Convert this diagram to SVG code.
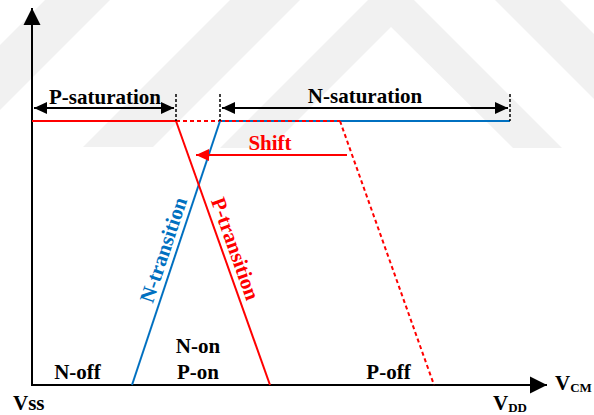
<svg xmlns="http://www.w3.org/2000/svg" width="594" height="415" viewBox="0 0 594 415">
  <style>
    .t { font-family: "Liberation Serif", "Times New Roman", serif; font-weight: bold; font-size: 21px; fill: #000; }
    .sub { font-size: 13px; }
    .red { fill: #FF0000; }
    .blue { fill: #0070C0; }
    .ax { stroke: #000; stroke-width: 2; fill: none; }
    .dim { stroke: #000; stroke-width: 2; fill: none; }
    .vd { stroke: #000; stroke-width: 1.5; stroke-dasharray: 3 2; fill: none; }
    .rl { stroke: #FF0000; stroke-width: 2; fill: none; }
    .rd { stroke: #FF0000; stroke-width: 2; stroke-dasharray: 4 3; fill: none; }
    .bl { stroke: #0070C0; stroke-width: 2; fill: none; }
    .wm { fill: #000; fill-opacity: 0.055; }
  </style>
  <defs>
    <marker id="axh" markerUnits="userSpaceOnUse" markerWidth="18" markerHeight="18" viewBox="0 0 18 18" refX="17" refY="9" orient="auto">
      <path d="M0,0.5 L17,9 L0,17.5 Z" fill="#000"/>
    </marker>
    <marker id="ah" markerUnits="userSpaceOnUse" markerWidth="14" markerHeight="14" viewBox="0 0 14 14" refX="13" refY="7" orient="auto-start-reverse">
      <path d="M0,1 L13,7 L0,13 Z" fill="#000"/>
    </marker>
    <marker id="rh" markerUnits="userSpaceOnUse" markerWidth="14" markerHeight="14" viewBox="0 0 14 14" refX="13" refY="7" orient="auto">
      <path d="M0,1 L13,7 L0,13 Z" fill="#FF0000"/>
    </marker>
  </defs>

  <g id="watermark">
    <polygon class="wm" points="0,45 45,0 110,0 0,110"/>
    <polygon class="wm" points="83,147 230,0 300,0 153,147"/>
    <polygon class="wm" points="220,148 391,-23 562,148 513,148 391,27 270,148"/>
    <polygon class="wm" points="495,0 560,0 594,34 594,99"/>
  </g>

  <g id="axes">
    <line class="ax" x1="32" y1="386" x2="32" y2="8" marker-end="url(#axh)"/>
    <line class="ax" x1="31" y1="385" x2="547" y2="385" marker-end="url(#axh)"/>
  </g>

  <g id="connectors">
    <line class="bl" x1="220" y1="121" x2="510" y2="121"/>
    <line class="rl" x1="32" y1="121" x2="176" y2="121"/>
    <line class="rd" x1="176" y1="121" x2="340" y2="121"/>
    <line class="bl" x1="132" y1="385" x2="220" y2="121"/>
    <line class="rl" x1="176" y1="121" x2="270" y2="385"/>
    <line class="rd" x1="340" y1="121" x2="434" y2="385"/>
    <line class="vd" x1="176" y1="94" x2="176" y2="121"/>
    <line class="vd" x1="220" y1="94" x2="220" y2="121"/>
    <line class="vd" x1="510" y1="94" x2="510" y2="121"/>
    <line class="dim" x1="34" y1="108" x2="174" y2="108" marker-start="url(#ah)" marker-end="url(#ah)"/>
    <line class="dim" x1="222" y1="108" x2="508" y2="108" marker-start="url(#ah)" marker-end="url(#ah)"/>
    <line class="rl" x1="347" y1="155" x2="196" y2="155" marker-end="url(#rh)"/>
  </g>

  <g id="p-saturation"><text class="t" x="105" y="104" text-anchor="middle">P-saturation</text></g>
  <g id="n-saturation"><text class="t" x="365" y="103" text-anchor="middle">N-saturation</text></g>
  <g id="shift"><text class="t red" x="270" y="150" text-anchor="middle">Shift</text></g>
  <g id="n-transition"><text class="t blue" transform="translate(175.7,254) rotate(-71.57)" x="0" y="-6" text-anchor="middle">N-transition</text></g>
  <g id="p-transition"><text class="t red" transform="translate(223,253) rotate(70.4)" x="0" y="-6" text-anchor="middle">P-transition</text></g>
  <g id="n-off"><text class="t" x="77.5" y="379" text-anchor="middle">N-off</text></g>
  <g id="n-on-p-on">
    <text class="t" x="198" y="353" text-anchor="middle">N-on</text>
    <text class="t" x="198" y="379" text-anchor="middle">P-on</text>
  </g>
  <g id="p-off"><text class="t" x="388.5" y="379" text-anchor="middle">P-off</text></g>
  <g id="vss"><text class="t" x="13" y="410">Vss</text></g>
  <g id="vdd"><text class="t" x="493" y="410">V<tspan class="sub" dy="2">DD</tspan></text></g>
  <g id="vcm"><text class="t" x="555" y="390">V<tspan class="sub" dy="2">CM</tspan></text></g>
</svg>
